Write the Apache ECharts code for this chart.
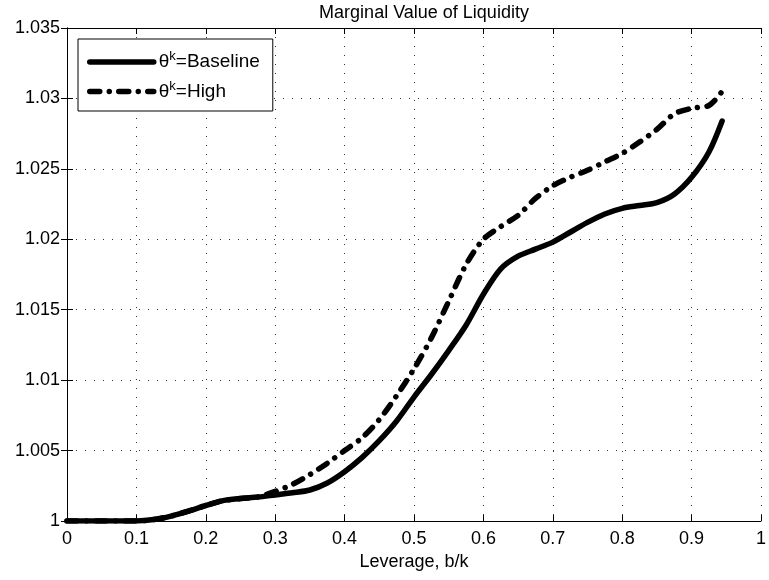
<!DOCTYPE html>
<html>
<head>
<meta charset="utf-8">
<script src="https://cdn.jsdelivr.net/npm/echarts@6/dist/echarts.min.js"></script>
<style>html,body{margin:0;padding:0;background:#fff}#c{width:769px;height:580px}</style>
</head>
<body>
<div id="c"></div>
<script>
const leverage = [0, 0.05, 0.1, 0.125, 0.15, 0.175, 0.2, 0.225, 0.25, 0.275, 0.3, 0.325, 0.35, 0.375, 0.4, 0.425, 0.45, 0.475, 0.5, 0.525, 0.55, 0.575, 0.6, 0.625, 0.65, 0.675, 0.7, 0.725, 0.75, 0.775, 0.8, 0.825, 0.85, 0.875, 0.9, 0.925, 0.944];
const baseline = [1.0000, 1.0000, 1.0000, 1.0001, 1.00035, 1.0007, 1.0011, 1.00145, 1.0016, 1.0017, 1.00185, 1.0020, 1.0022, 1.0027, 1.0035, 1.0045, 1.0057, 1.0071, 1.0088, 1.0104, 1.0121, 1.0139, 1.0161, 1.0179, 1.0188, 1.0193, 1.0198, 1.0205, 1.0212, 1.0218, 1.0222, 1.0224, 1.0226, 1.0232, 1.0244, 1.0262, 1.0284];
const high = [1.0000, 1.0000, 1.0000, 1.0001, 1.00035, 1.0007, 1.0011, 1.00145, 1.0016, 1.0017, 1.0021, 1.0026, 1.0033, 1.0041, 1.0050, 1.0059, 1.0072, 1.0089, 1.0108, 1.0130, 1.0156, 1.0182, 1.0200, 1.0209, 1.0217, 1.0229, 1.0238, 1.0244, 1.0249, 1.0255, 1.0261, 1.0269, 1.0278, 1.0289, 1.0293, 1.0295, 1.0305];
const seriesNames = ['Baseline', 'High'];
const titleText = 'Marginal Value of Liquidity';
const xName = 'Leverage, b/k';

const font = 'Liberation Sans, Arial, Helvetica, sans-serif';
const chart = echarts.init(document.getElementById('c'));
const pair = (xs, ys) => xs.map((x, i) => [x, ys[i]]);
const gridLine = { show: true, lineStyle: { color: '#333', type: [1, 8], width: 1 } };
const tick = { show: true, inside: true, length: 6, lineStyle: { color: '#000' } };
const dashDot = [10, 9.5, 0.01, 9.5];
chart.setOption({
  animation: false,
  title: { text: titleText, left: 419, textAlign: 'center', top: -1, textStyle: { fontFamily: font, fontSize: 18, fontWeight: 'normal', color: '#000' } },
  grid: { left: 67, right: 2, top: 28, bottom: 59 },
  legend: {
    orient: 'vertical', left: 78, top: 39, padding: [11, 13, 10, 9], itemGap: 8,
    borderColor: '#000', borderWidth: 1, backgroundColor: '#fff',
    itemWidth: 64, itemHeight: 10,
    itemStyle: { opacity: 0 },
    lineStyle: { width: 5.5, cap: 'round' },
    data: seriesNames,
    formatter: n => '{a|θ}{s|k}{a|=' + n + '}',
    textStyle: { fontFamily: font, color: '#000', rich: {
      a: { fontFamily: font, fontSize: 19, color: '#000', lineHeight: 24 },
      s: { fontFamily: font, fontSize: 13, color: '#000', verticalAlign: 'top', lineHeight: 14 }
    } }
  },
  xAxis: [{
    type: 'value', min: 0, max: 1, interval: 0.1, position: 'bottom',
    name: xName, nameLocation: 'middle', nameGap: 28,
    nameTextStyle: { fontFamily: font, fontSize: 18, color: '#000', verticalAlign: 'top' },
    axisLine: { show: true, lineStyle: { color: '#000' } }, axisTick: tick,
    axisLabel: { fontFamily: font, fontSize: 18, color: '#000', margin: 9 },
    splitLine: gridLine
  }, {
    type: 'value', min: 0, max: 1, interval: 0.1, position: 'top',
    axisLine: { show: true, lineStyle: { color: '#000' } }, axisTick: tick,
    axisLabel: { show: false }, splitLine: { show: false }
  }],
  yAxis: [{
    type: 'value', min: 1, max: 1.035, interval: 0.005, position: 'left',
    axisLine: { show: true, lineStyle: { color: '#000' } }, axisTick: tick,
    axisLabel: { fontFamily: font, fontSize: 18, color: '#000', margin: 7, formatter: v => String(+v.toFixed(3)) },
    splitLine: gridLine
  }, {
    type: 'value', min: 1, max: 1.035, interval: 0.005, position: 'right',
    axisLine: { show: true, lineStyle: { color: '#000' } }, axisTick: tick,
    axisLabel: { show: false }, splitLine: { show: false }
  }],
  series: [{
    name: seriesNames[0], type: 'line', data: pair(leverage, baseline), smooth: 0.3,
    symbol: 'none', lineStyle: { color: '#000', width: 5.5, cap: 'round', join: 'round' }, itemStyle: { color: '#000' }
  }, {
    name: seriesNames[1], type: 'line', data: pair(leverage, high), smooth: 0.3,
    symbol: 'none', lineStyle: { color: '#000', width: 5.5, cap: 'round', join: 'round', type: dashDot }, itemStyle: { color: '#000' }
  }]
});
</script>
</body>
</html>
